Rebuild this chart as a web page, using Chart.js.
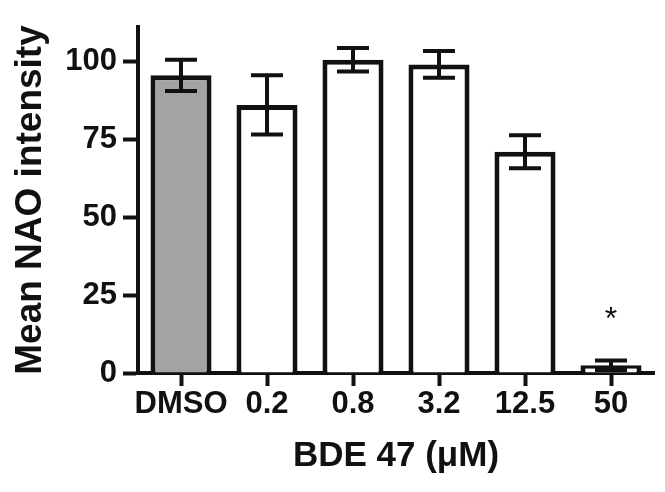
<!DOCTYPE html>
<html lang="en">
<head>
 <meta charset="UTF-8">
 <title>Mean NAO intensity</title>
 <script src="https://cdn.jsdelivr.net/npm/chart.js"></script>
 <style>
 body { margin: 0; background: #fff; }
 </style>
</head>
<body>
 <canvas id="myChart" width="665" height="492"></canvas>
 <script>
 // data
 const categories = ['DMSO', '0.2', '0.8', '3.2', '12.5', '50'];
 const means = [95.5, 86, 100.5, 99, 71, 2.5];
 const errors = [5, 9.5, 3.8, 4.3, 5.3, 1.5];
 const sigMarks = ['', '', '', '', '', '*'];
 const sigLevel = 14;
 const yTicks = [0, 25, 50, 75, 100];
 const fills = ['#a3a3a3', '#fff', '#fff', '#fff', '#fff', '#fff'];

 const ink = '#111';
 const fontFamily = '"Liberation Sans", Arial, Helvetica, sans-serif';

 // error bars and significance stars
 const errorBars = {
 id: 'errorBars',
 afterDatasetsDraw(chart) {
 const ctx = chart.ctx;
 const y = chart.scales.y;
 const meta = chart.getDatasetMeta(0);
 ctx.save();
 ctx.strokeStyle = ink;
 ctx.lineWidth = 4;
 meta.data.forEach((bar, i) => {
 const top = y.getPixelForValue(means[i] + errors[i]);
 const bot = y.getPixelForValue(means[i] - errors[i]);
 const half = 16;
 ctx.beginPath();
 ctx.moveTo(bar.x, top);
 ctx.lineTo(bar.x, bot);
 ctx.moveTo(bar.x - half, top);
 ctx.lineTo(bar.x + half, top);
 ctx.moveTo(bar.x - half, bot);
 ctx.lineTo(bar.x + half, bot);
 ctx.stroke();
 if (sigMarks[i]) {
 ctx.fillStyle = ink;
 ctx.font = '32px ' + fontFamily;
 ctx.textAlign = 'center';
 ctx.textBaseline = 'alphabetic';
 ctx.fillText(sigMarks[i], bar.x, y.getPixelForValue(sigLevel));
 }
 });
 ctx.restore();
 }
 };

 const ctx = document.getElementById('myChart').getContext('2d');
 new Chart(ctx, {
 type: 'bar',
 data: {
 labels: categories,
 datasets: [{
 data: means,
 backgroundColor: fills,
 borderColor: ink,
 borderWidth: 5,
 borderSkipped: 'start',
 barPercentage: 0.71,
 categoryPercentage: 1
 }]
 },
 options: {
 responsive: false,
 animation: false,
 layout: { padding: { top: 27, right: 11, bottom: 0, left: 0 } },
 plugins: {
 legend: { display: false },
 tooltip: { enabled: false }
 },
 scales: {
 x: {
 offset: true,
 grid: {
 offset: false,
 drawOnChartArea: false,
 drawTicks: true,
 tickLength: 13,
 tickWidth: 4,
 tickColor: ink
 },
 border: { display: true, width: 4, color: ink },
 ticks: {
 color: ink,
 font: { family: fontFamily, size: 31, weight: 'bold' },
 padding: 0,
 maxRotation: 0,
 autoSkip: false
 },
 title: {
 display: true,
 text: 'BDE 47 (μM)',
 color: ink,
 font: { family: fontFamily, size: 35, weight: 'bold' },
 padding: { top: 0, bottom: 15 }
 },
 afterFit(scale) { scale.height = 119; }
 },
 y: {
 min: 0,
 max: 111,
 grid: {
 drawOnChartArea: false,
 drawTicks: true,
 tickLength: 15,
 tickWidth: 4,
 tickColor: ink
 },
 border: { display: true, width: 4, color: ink },
 ticks: {
 color: ink,
 font: { family: fontFamily, size: 31, weight: 'bold' },
 padding: 6
 },
 afterBuildTicks(scale) {
 scale.ticks = yTicks.map(v => ({ value: v }));
 },
 title: {
 display: true,
 text: 'Mean NAO intensity',
 color: ink,
 font: { family: fontFamily, size: 37, weight: 'bold' },
 padding: { top: 9, bottom: 0 }
 },
 afterFit(scale) { scale.width = 138; }
 }
 }
 },
 plugins: [errorBars]
 });
 </script>
</body>
</html>
